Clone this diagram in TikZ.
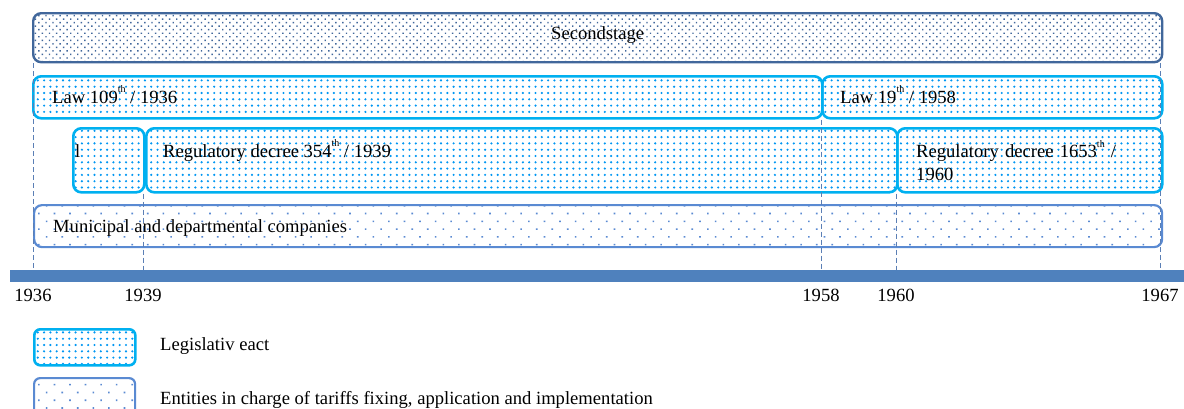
\documentclass[tikz,border=0pt]{standalone}
\usepackage{fontspec}
\setmainfont{Liberation Serif}
\usetikzlibrary{patterns.meta,calc}
\definecolor{stageblue}{HTML}{41679B}
\definecolor{actcyan}{HTML}{00B0F0}
\definecolor{entblue}{HTML}{5A8AD2}
\definecolor{barblue}{HTML}{4F81BD}
\definecolor{guideblue}{HTML}{5B7FB5}
\newcommand{\ordsup}[1]{\raisebox{0.55em}{\fontsize{10}{10}\selectfont #1}}
\begin{document}
\begin{tikzpicture}[x=1pt,y=-1pt,
  font=\fontsize{18.6}{23}\selectfont,
  box/.style={anchor=north west, inner sep=0pt, rounded corners=8pt},
  stagebox/.style={box, draw=stageblue, line width=2.4pt,
    pattern={Dots[angle=45, distance=5pt, radius=1pt]}, pattern color=stageblue},
  actbox/.style={box, draw=actcyan, line width=2.6pt,
    pattern={Dots[distance=6.3pt, radius=1.2pt]}, pattern color=actcyan!85!blue},
  entbox/.style={box, draw=entblue, line width=2.2pt,
    pattern={Dots[angle=45, distance=11pt, radius=1.15pt]}, pattern color=entblue},
  lbl/.style={anchor=base west, inner sep=0pt, text=black},
  year/.style={anchor=base, inner sep=0pt, text=black},
  guide/.style={draw=guideblue, line width=0.8pt, dash pattern=on 5pt off 3pt},
]
\useasboundingbox (0,0) rectangle (1184,408);
\clip (0,0) rectangle (1184,408);

% time axis marks
\coordinate (t1936) at (33,270);
\coordinate (t1939) at (143,270);
\coordinate (t1958) at (821,270);
\coordinate (t1960) at (896,270);
\coordinate (t1967) at (1160,270);

% stage
\node[stagebox, minimum width=1129pt, minimum height=49pt] (stage) at (32,12) {};
\node[anchor=base, inner sep=0pt] at ($(stage.north)+(0,27)$) {Secondstage};

% laws
\node[actbox, minimum width=789pt, minimum height=42pt] (law109) at (32,75) {};
\node[actbox, minimum width=340pt, minimum height=42pt] (law19) at (821,75) {};
\node[lbl] at ($(law109.north west)+(20,28)$) {Law 109\ordsup{th} / 1936};
\node[lbl] at ($(law19.north west)+(19,28)$) {Law 19\ordsup{th} / 1958};

% regulatory decrees
\node[actbox, minimum width=71pt, minimum height=64pt] (dec1) at (72,127) {};
\node[actbox, minimum width=751pt, minimum height=64pt] (dec354) at (145,127) {};
\node[actbox, minimum width=265pt, minimum height=64pt] (dec1653) at (896,127) {};
\node[lbl] at ($(dec1.north west)+(3,30)$) {l};
\node[lbl] at ($(dec354.north west)+(18,30)$) {Regulatory decree 354\ordsup{th} / 1939};
\node[lbl, text width=235pt, align=left, anchor=north west]
  at ($(dec1653.north west)+(20,13)$) {Regulatory decree 1653\ordsup{th} /\\1960};

% entities
\node[entbox, minimum width=1128pt, minimum height=42pt] (ent) at (33,204) {};
\node[lbl] at ($(ent.north west)+(20,28)$) {Municipal and departmental companies};

% dashed guides down to the axis
\draw[guide] (t1936 |- stage.south) -- (t1936);
\draw[guide] (t1939 |- dec1.south) -- (t1939);
\draw[guide] (t1958 |- law19.south) -- (t1958);
\draw[guide] (t1960 |- dec1653.south) -- (t1960);
\draw[guide] (t1967 |- stage.south) -- (t1967);

% axis bar
\fill[barblue] (10,270) rectangle (1184,282);

% years
\node[year] at ($(t1936)+(0,31)$) {1936};
\node[year] at ($(t1939)+(0,31)$) {1939};
\node[year] at ($(t1958)+(0,31)$) {1958};
\node[year] at ($(t1960)+(0,31)$) {1960};
\node[year] at ($(t1967)+(0,31)$) {1967};

% legend
\node[actbox, minimum width=101pt, minimum height=36pt, rounded corners=6pt] (keyact) at (33,328) {};
\node[entbox, minimum width=101pt, minimum height=40pt, rounded corners=6pt] (keyent) at (33,377) {};
\node[lbl] at (160,350) {Legislativ eact};
\node[lbl] at (160,404) {Entities in charge of tariffs fixing, application and implementation};
\end{tikzpicture}
\end{document}
